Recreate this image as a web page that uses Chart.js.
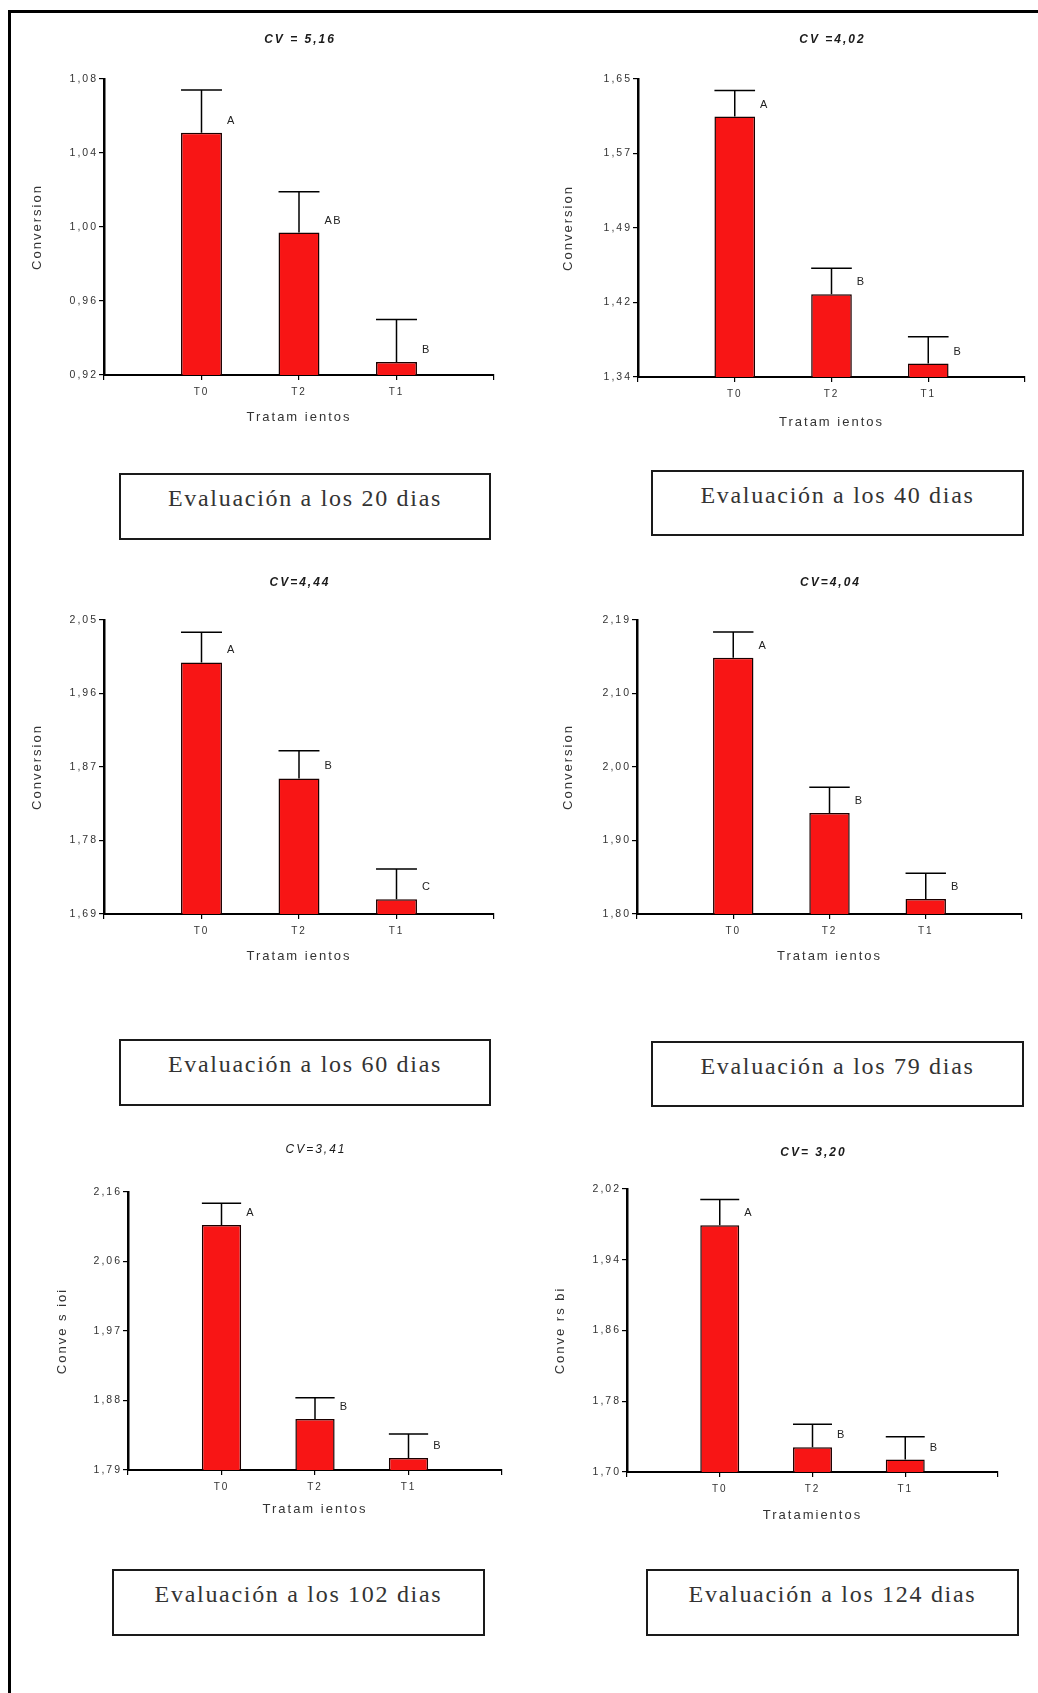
<!DOCTYPE html>
<html><head><meta charset="utf-8">
<script src="https://cdn.jsdelivr.net/npm/chart.js@4.4.1/dist/chart.umd.min.js"></script>
<style>
html,body{margin:0;padding:0;background:#fff;}
body{width:1038px;height:1693px;position:relative;overflow:hidden;}
.frame{position:absolute;background:#000;z-index:5;}
canvas{position:absolute;}
.cap{position:absolute;box-sizing:border-box;border:2px solid #1a1a1a;font-family:"Liberation Serif","Times New Roman",serif;font-size:24px;color:#333;text-align:center;letter-spacing:1.7px;padding-top:10px;white-space:nowrap;}
</style></head>
<body>
<div class="frame" style="left:8px;top:10px;width:1030px;height:3px;"></div>
<div class="frame" style="left:8px;top:10px;width:3px;height:1683px;"></div>
<script>
// ---------- DATA ----------
const categories = ['T0', 'T2', 'T1'];

const cvLabels = ['CV = 5,16', 'CV =4,02', 'CV=4,44', 'CV=4,04', 'CV=3,41', 'CV= 3,20'];
const captions = ['Evaluación a los 20 dias', 'Evaluación a los 40 dias', 'Evaluación a los 60 dias',
                  'Evaluación a los 79 dias', 'Evaluación a los 102 dias', 'Evaluación a los 124 dias'];
const yTitles = ['Conversion', 'Conversion', 'Conversion', 'Conversion', 'Conve s ioi', 'Conve rs bi'];
const xTitles = ['Tratam ientos', 'Tratam ientos', 'Tratam ientos', 'Tratam ientos', 'Tratam ientos', 'Tratamientos'];

const ticks20  = ['0,92', '0,96', '1,00', '1,04', '1,08'];
const ticks40  = ['1,34', '1,42', '1,49', '1,57', '1,65'];
const ticks60  = ['1,69', '1,78', '1,87', '1,96', '2,05'];
const ticks79  = ['1,80', '1,90', '2,00', '2,10', '2,19'];
const ticks102 = ['1,79', '1,88', '1,97', '2,06', '2,16'];
const ticks124 = ['1,70', '1,78', '1,86', '1,94', '2,02'];

const mean20  = [1.051, 0.997, 0.927];
const sd20    = [0.023, 0.022, 0.023];
const letters20 = ['A', 'AB', 'B'];

const mean40  = [1.611, 1.426, 1.354];
const sd40    = [0.027, 0.027, 0.028];
const letters40 = ['A', 'B', 'B'];

const mean60  = [1.998, 1.856, 1.708];
const sd60    = [0.037, 0.034, 0.037];
const letters60 = ['A', 'B', 'C'];

const mean79  = [2.140, 1.934, 1.820];
const sd79    = [0.034, 0.034, 0.034];
const letters79 = ['A', 'B', 'B'];

const mean102 = [2.116, 1.858, 1.806];
const sd102   = [0.029, 0.028, 0.032];
const letters102 = ['A', 'B', 'B'];

const mean124 = [1.979, 1.728, 1.714];
const sd124   = [0.029, 0.026, 0.026];
const letters124 = ['A', 'B', 'B'];

// ---------- LAYOUT (positions only) ----------
const panelLayout = [
  {xL:104, xR:494,  yT:79,   yB:375,  tOff:39, yTitleX:37,  xTitleOff:42, bold:true},
  {xL:638, xR:1025, yT:79,   yB:377,  tOff:39, yTitleX:568, xTitleOff:45, bold:true},
  {xL:104, xR:494,  yT:620,  yB:914,  tOff:37, yTitleX:37,  xTitleOff:42, bold:true},
  {xL:637, xR:1022, yT:620,  yB:914,  tOff:37, yTitleX:568, xTitleOff:42, bold:true},
  {xL:128, xR:502,  yT:1192, yB:1470, tOff:42, yTitleX:62,  xTitleOff:39, bold:false},
  {xL:627, xR:998,  yT:1189, yB:1472, tOff:36, yTitleX:560, xTitleOff:43, bold:true}
];
const capLayout = [
  {l:119, t:473,  w:372, h:67},
  {l:651, t:470,  w:373, h:66},
  {l:119, t:1039, w:372, h:67},
  {l:651, t:1041, w:373, h:66},
  {l:112, t:1569, w:373, h:67},
  {l:646, t:1569, w:373, h:67}
];

const panels = [
  {ticks:ticks20,  mean:mean20,  sd:sd20,  letters:letters20},
  {ticks:ticks40,  mean:mean40,  sd:sd40,  letters:letters40},
  {ticks:ticks60,  mean:mean60,  sd:sd60,  letters:letters60},
  {ticks:ticks79,  mean:mean79,  sd:sd79,  letters:letters79},
  {ticks:ticks102, mean:mean102, sd:sd102, letters:letters102},
  {ticks:ticks124, mean:mean124, sd:sd124, letters:letters124}
];

const SANS = '"Liberation Sans", Arial, sans-serif';
const PADL = 100, PADT = 75, PADR = 10, PADB = 75;
const num = s => parseFloat(s.replace(',', '.'));

panels.forEach((p, k) => {
  const L = panelLayout[k];
  const cv = document.createElement('canvas');
  const W = L.xR - L.xL + PADL + PADR;
  const H = L.yB - L.yT + PADT + PADB;
  cv.width = W; cv.height = H;
  cv.style.left = (L.xL - PADL) + 'px';
  cv.style.top = (L.yT - PADT) + 'px';
  cv.style.width = W + 'px'; cv.style.height = H + 'px';
  document.body.appendChild(cv);

  const yMin = num(p.ticks[0]);
  const yMax = num(p.ticks[p.ticks.length - 1]);
  const nT = p.ticks.length;
  const labels = [''].concat(categories, ['']);
  const values = [null].concat(p.mean, [null]);

  const extras = {
    id: 'extras' + k,
    beforeDraw(chart) { chart.ctx.letterSpacing = '2px'; },
    afterDraw(chart) {
      const ctx = chart.ctx;
      const yS = chart.scales.y;
      const xS = chart.scales.x;
      const ca = chart.chartArea;
      const meta = chart.getDatasetMeta(0);
      ctx.save();
      ctx.fillStyle = '#000';
      // vertical axis line, drawn as a filled rectangle from the scale's own pixels
      const ax = Math.round(xS.getPixelForValue(0));
      const yTop = Math.round(yS.getPixelForValue(yMax));
      const yBot = Math.round(yS.getPixelForValue(yMin));
      ctx.fillRect(ax - 1, yTop - 1, 2.5, yBot - yTop + 2);
      // error bars + letters
      ctx.strokeStyle = '#000';
      ctx.lineWidth = 1.5;
      ctx.fillStyle = '#222';
      ctx.font = '11px ' + SANS;
      ctx.letterSpacing = '1.5px';
      ctx.textAlign = 'left';
      ctx.textBaseline = 'middle';
      for (let j = 0; j < categories.length; j++) {
        const bar = meta.data[j + 1];
        const x = bar.x, top = bar.y, w = bar.width;
        const eY = yS.getPixelForValue(p.mean[j] + p.sd[j]);
        ctx.beginPath();
        ctx.moveTo(x, top); ctx.lineTo(x, eY);
        ctx.moveTo(x - w / 2, eY); ctx.lineTo(x + w / 2, eY);
        ctx.stroke();
        ctx.fillText(p.letters[j], x + w / 2 + 5, top - 12);
      }
      ctx.font = (L.bold ? 'italic bold 12px ' : 'italic 12px ') + SANS;
      ctx.letterSpacing = '2px';
      ctx.textAlign = 'center';
      ctx.fillStyle = '#1a1a1a';
      ctx.fillText(cvLabels[k], (ca.left + ca.right) / 2 + 1, ca.top - L.tOff);
      ctx.restore();
    }
  };

  new Chart(cv, {
    type: 'bar',
    data: {
      labels: labels,
      datasets: [{
        data: values,
        backgroundColor: '#f81515',
        borderColor: '#1a0000',
        borderWidth: 1.5,
        borderSkipped: 'bottom',
        categoryPercentage: 0.42,
        barPercentage: 1.0
      }]
    },
    options: {
      responsive: false,
      animation: false,
      devicePixelRatio: 1,
      layout: {padding: {top: PADT, right: PADR, left: 0, bottom: 0}},
      plugins: {legend: {display: false}, tooltip: {enabled: false}, title: {display: false}},
      scales: {
        x: {
          type: 'category',
          offset: false,
          afterFit(s) { s.height = PADB; },
          grid: {offset: false, drawOnChartArea: false, drawTicks: true, tickLength: 5, color: '#000', lineWidth: 1.2},
          border: {display: true, color: '#000', width: 2},
          ticks: {color: '#333', font: {family: SANS, size: 10}, padding: 6, maxRotation: 0, autoSkip: false},
          title: {display: true, text: xTitles[k], color: '#333', font: {family: SANS, size: 13},
                  padding: {top: 0, bottom: PADB - L.xTitleOff - 7.8}}
        },
        y: {
          type: 'linear',
          min: yMin, max: yMax,
          afterFit(s) { s.width = PADL; },
          afterBuildTicks(s) {
            s.ticks = p.ticks.map((t, i) => ({value: yMin + i * (yMax - yMin) / (nT - 1)}));
          },
          grid: {drawOnChartArea: false, drawTicks: true, tickLength: 5, color: '#000', lineWidth: 1.2},
          border: {display: true, color: '#000', width: 2},
          ticks: {color: '#333', font: {family: SANS, size: 10.5}, padding: 1,
                  callback: (v, i) => p.ticks[i]},
          title: {display: true, text: yTitles[k], color: '#333', font: {family: SANS, size: 13},
                  padding: {top: (L.yTitleX - (L.xL - PADL)) - 7.8, bottom: 0}}
        }
      }
    },
    plugins: [extras]
  });
});

captions.forEach((c, k) => {
  const b = capLayout[k];
  const d = document.createElement('div');
  d.className = 'cap';
  d.style.left = b.l + 'px'; d.style.top = b.t + 'px';
  d.style.width = b.w + 'px'; d.style.height = b.h + 'px';
  d.textContent = c;
  document.body.appendChild(d);
});
</script>
</body></html>
